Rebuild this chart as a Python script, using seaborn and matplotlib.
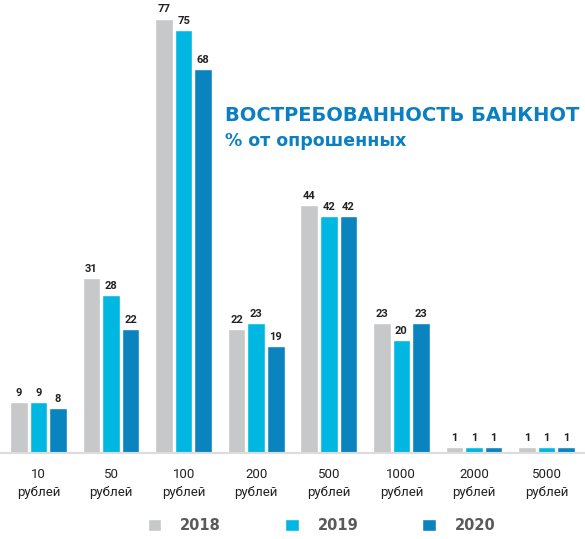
import pandas as pd
import matplotlib.pyplot as plt
import seaborn as sns

denominations = ["10", "50", "100", "200", "500", "1000", "2000", "5000"]
years = ["2018", "2019", "2020"]
share_2018 = [9, 31, 77, 22, 44, 23, 1, 1]
share_2019 = [9, 28, 75, 23, 42, 20, 1, 1]
share_2020 = [8, 22, 68, 19, 42, 23, 1, 1]
palette = ["#c7c8ca", "#00b7e1", "#0984bf"]

df = pd.DataFrame({
    "denomination": denominations * 3,
    "year": [y for y in years for _ in denominations],
    "share": share_2018 + share_2019 + share_2020,
})

sns.set_style("white")
plt.rcParams["font.family"] = ["Roboto", "DejaVu Sans"]
narrow = ["Liberation Sans Narrow", "Roboto", "DejaVu Sans"]

fig = plt.figure(figsize=(5.85, 5.39), dpi=100)
ax = fig.add_axes([0, 0.1596, 1, 0.8404])

sns.barplot(data=df, x="denomination", y="share", hue="year", order=denominations,
            hue_order=years, palette=palette, width=0.81, gap=0.1, saturation=1,
            ax=ax, legend=True)

# value labels above each bar
for cont in ax.containers:
    ax.bar_label(cont, padding=3, fontsize=8, color="#222222", family=narrow,
                 fontweight="bold")

ax.set_xlim(-0.53, 7.53)
ax.set_ylim(0, 80.3)
ax.set_xlabel("")
ax.set_ylabel("")
ax.set_yticks([])
ax.set_xticks(range(len(denominations)))
ax.set_xticklabels([f"{d}\nрублей" for d in denominations], fontsize=9.5,
                   color="#222222", linespacing=1.45, family=narrow)
ax.tick_params(axis="x", length=0, pad=11)
for side in ["top", "left", "right"]:
    ax.spines[side].set_visible(False)
ax.spines["bottom"].set_color("#dcdcdc")
ax.spines["bottom"].set_linewidth(1.5)

sns.move_legend(ax, "center", bbox_to_anchor=(0.55, 0.025), bbox_transform=fig.transFigure,
                ncol=3, frameon=False, title=None,
                prop={"family": "DejaVu Sans", "weight": "bold", "size": 10.5},
                handlelength=0.9, handleheight=0.9, handletextpad=1.3,
                columnspacing=4.4)
for t in ax.get_legend().get_texts():
    t.set_color("#5a5a5a")

fig.text(0.385, 0.785, "ВОСТРЕБОВАННОСТЬ БАНКНОТ", fontsize=14, fontweight="bold",
         color="#0a7fc1", va="center", ha="left", family="DejaVu Sans")
fig.text(0.385, 0.738, "% от опрошенных", fontsize=12.5, fontweight="bold",
         color="#0a7fc1", va="center", ha="left", family="DejaVu Sans")

fig.savefig("out.png", dpi=100)
